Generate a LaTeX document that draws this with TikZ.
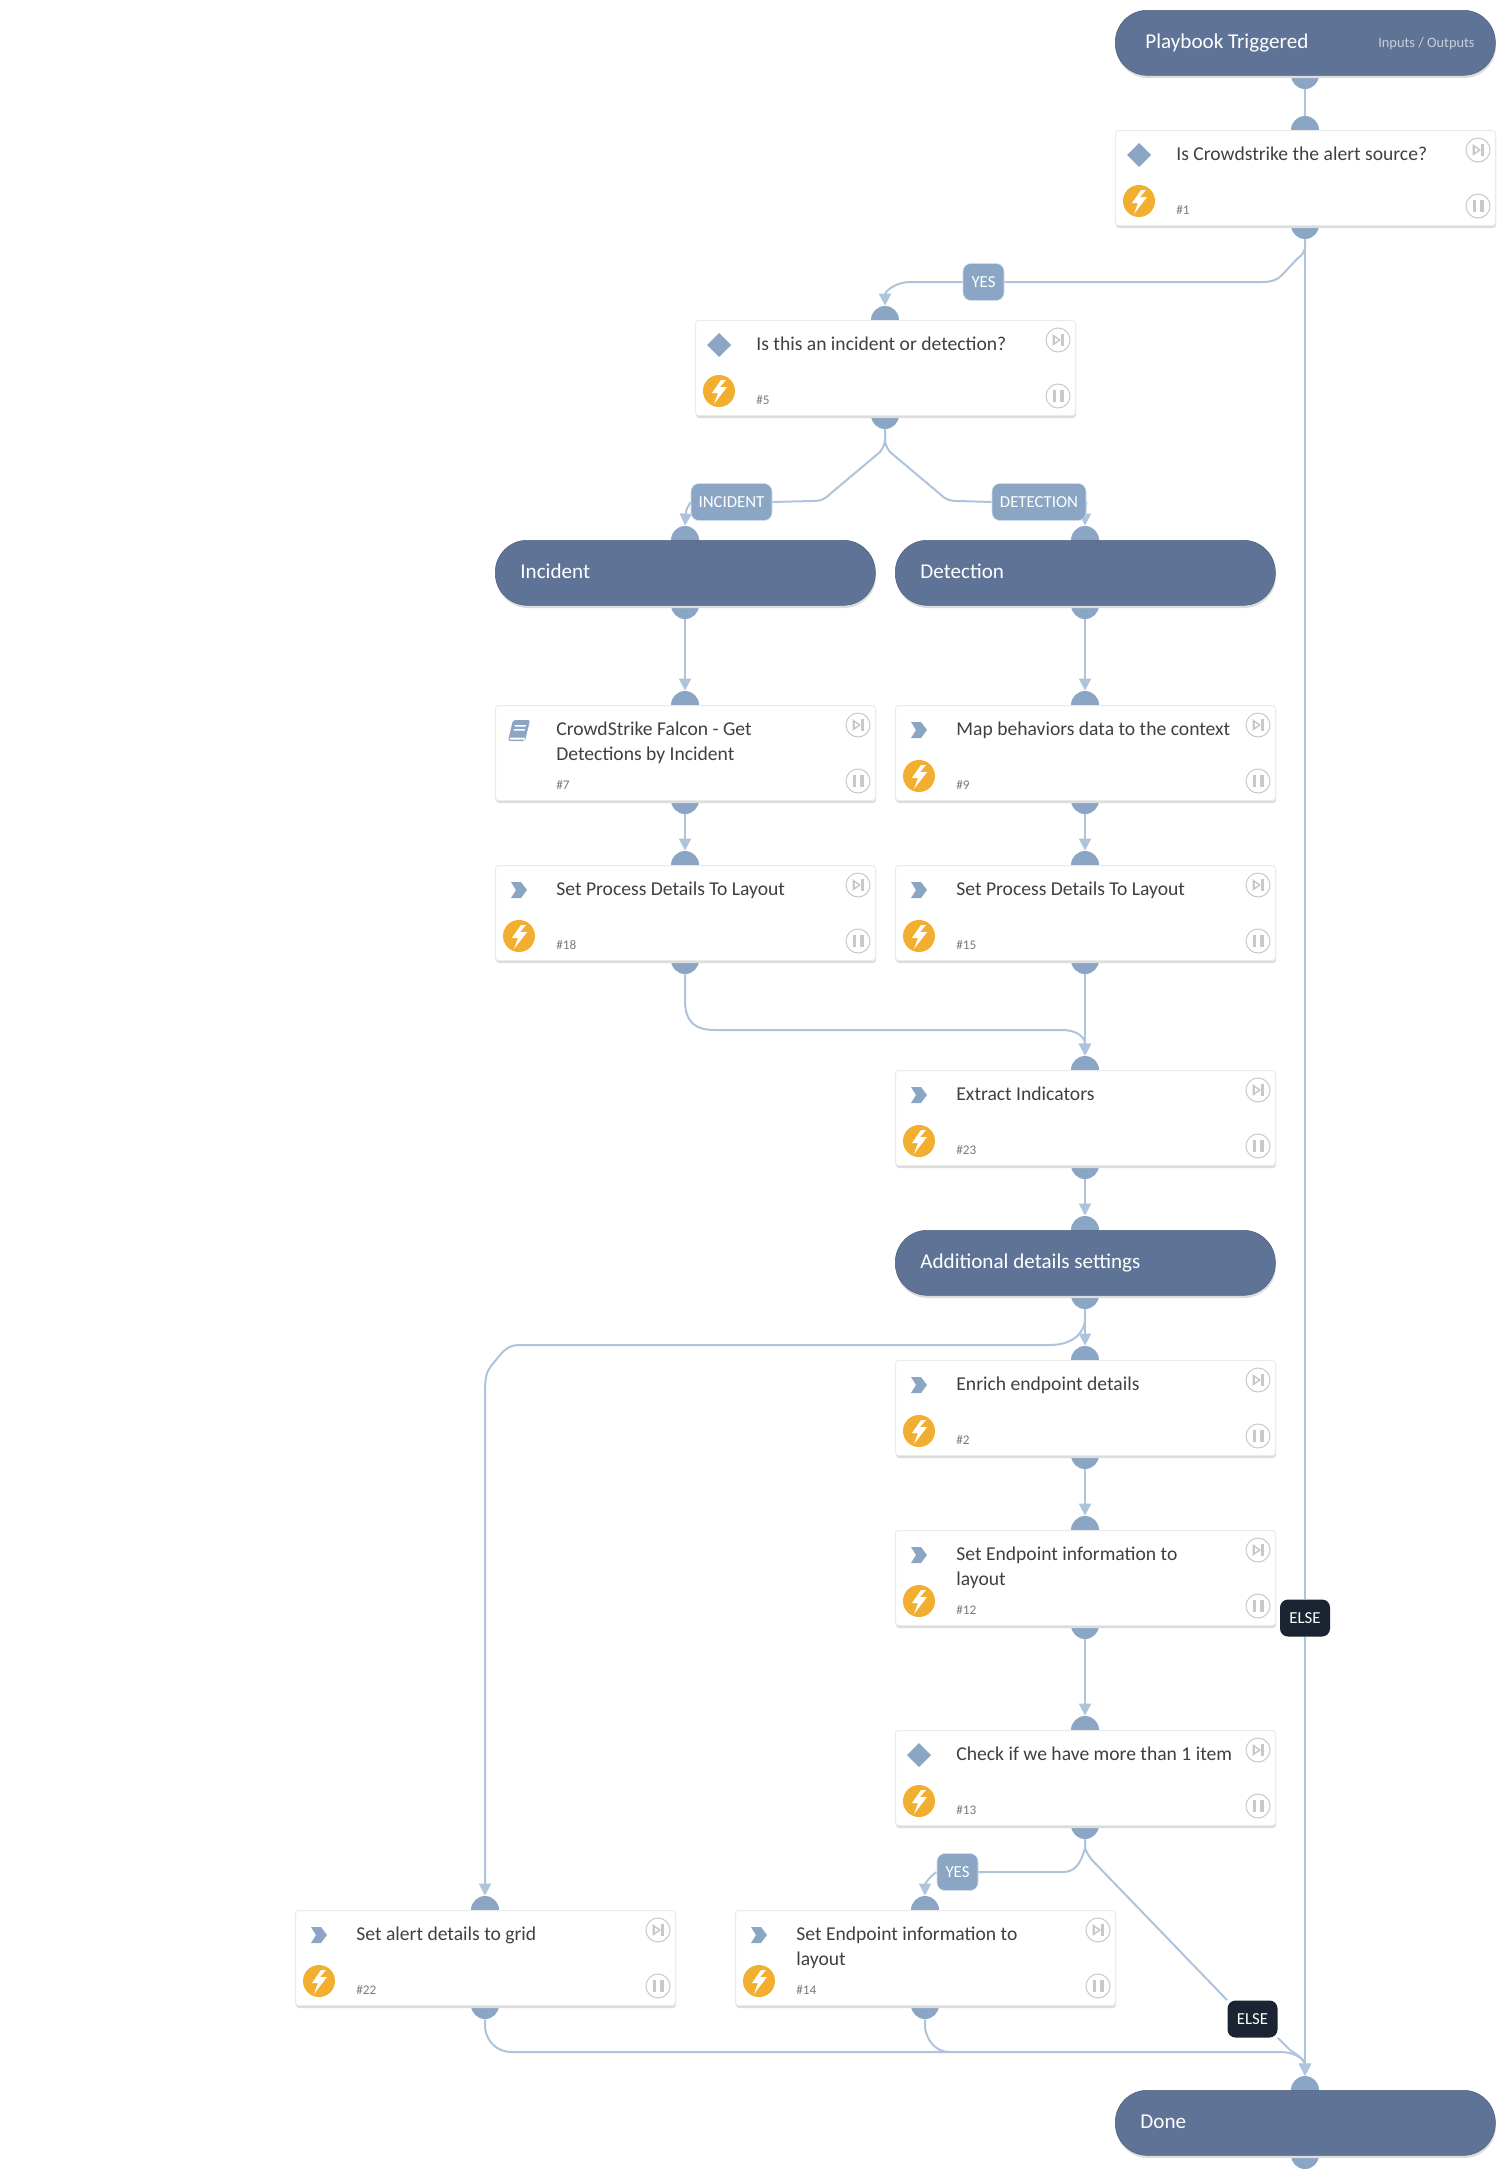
\documentclass[tikz,border=0pt]{standalone}
\usepackage{fontspec}
\setmainfont{Carlito}
\usetikzlibrary{arrows.meta,calc}
\pgfdeclarelayer{lines}
\pgfsetlayers{lines,main}
\definecolor{pillc}{HTML}{5F7396}
\definecolor{portc}{HTML}{8AA6C4}
\definecolor{linec}{HTML}{AEC4DC}
\definecolor{boltc}{HTML}{F2AE2F}
\definecolor{textc}{HTML}{404040}
\definecolor{numc}{HTML}{7A7A7A}
\definecolor{ctrlc}{HTML}{C8C8C8}
\definecolor{elsec}{HTML}{1B2433}
\definecolor{shadc}{HTML}{DCDCDC}
\tikzset{
  port/.style={circle,fill=portc,minimum size=14pt,inner sep=0pt},
  conn/.style={draw=linec,line width=1pt},
  arr/.style={conn,-{Triangle[length=6pt,width=6pt,fill=linec]}},
  taskbox/.style={fill=white,draw=shadc!60,line width=.5pt,rounded corners=1.5pt,minimum width=190pt,minimum height=47.5pt,inner sep=0pt,anchor=north west},
  pillbox/.style={fill=pillc,draw=pillc!85!black,line width=.3pt,rounded corners=16pt,minimum width=190pt,minimum height=32.5pt,inner sep=0pt,anchor=north west},
  tasktext/.style={anchor=north west,inner sep=0pt,align=left,text=textc,font=\fontsize{9.8}{12.5}\selectfont},
  numtext/.style={anchor=base west,inner sep=0pt,text=numc,font=\fontsize{6.6}{8}\selectfont},
  pilltext/.style={anchor=base west,inner sep=0pt,text=white,font=\fontsize{10.55}{13}\selectfont},
  edgelabel/.style={fill=portc,draw=linec!60,line width=.3pt,rounded corners=4pt,inner sep=0pt,text=white,font=\fontsize{8.4}{10}\selectfont},
  elselabel/.style={fill=elsec,rounded corners=4pt,inner sep=0pt,text=white,font=\fontsize{8.4}{10}\selectfont},
}
\newcommand{\ports}[4]{%
  \node[port] (#1t) at (#2+190,#3) {};
  \node[port] (#1b) at (#2+190,#3+#4) {};
}
\newcommand{\ctrls}[3]{%
  \begin{scope}[shift={(#1,#2)}]
    \node[circle,draw=ctrlc,line width=.5pt,fill=white,minimum size=12pt,inner sep=0pt] (#3s) at (363,20) {};
    \fill[ctrlc] (357.5,14) -- (366,20) -- (357.5,26) -- cycle;
    \fill[white] (360,17.7) -- (363.2,20) -- (360,22.3) -- cycle;
    \fill[ctrlc] (366,14) rectangle (369,26);
    \node[circle,draw=ctrlc,line width=.5pt,fill=white,minimum size=12pt,inner sep=0pt] (#3p) at (363,76) {};
    \fill[ctrlc] (357.5,70) rectangle (361,82);
    \fill[ctrlc] (365,70) rectangle (368.5,82);
  \end{scope}
}
\newcommand{\bolt}[3]{%
  \begin{scope}[shift={(#1,#2)}]
    \node[circle,fill=boltc,minimum size=16pt,inner sep=0pt] (#3i) at (24,71) {};
    \fill[white] (26,60) -- (17,73) -- (23,73) -- (19,84) -- (32,67) -- (25,67) -- (31,60) -- cycle;
  \end{scope}
}
\newcommand{\diamondicon}[2]{\fill[portc,shift={(#1,#2)}] (24,13) -- (36,25) -- (24,37) -- (12,25) -- cycle;}
\newcommand{\chevicon}[2]{\fill[portc,shift={(#1,#2)}] (16,17) -- (26,17) -- (32,25) -- (26,33) -- (16,33) -- (21,25) -- cycle;}
\newcommand{\bookicon}[2]{%
  \begin{scope}[shift={(#1,#2)}]
    \fill[portc,rounded corners=1pt] (18,15) -- (35,15) -- (30,36) -- (13,36) -- cycle;
    \fill[white] (14.5,34.5) -- (29.5,34.5) -- (30,32.5) -- (15,32.5) -- cycle;
    \fill[white] (20,20) -- (31,20) -- (30.6,21.5) -- (19.6,21.5) -- cycle;
    \fill[white] (19,24) -- (30,24) -- (29.6,25.5) -- (18.6,25.5) -- cycle;
  \end{scope}
}
\newcommand{\tasknode}[7]{%
  \ports{#1}{#2}{#3}{95}
  \fill[shadc,rounded corners=1.5pt] (#2+1,#3+3) rectangle (#2+381,#3+98);
  \node[taskbox] (#1) at (#2,#3) {};
  \csname #4icon\endcsname{#2}{#3}
  #5
  \ctrls{#2}{#3}{#1}
  \node[tasktext] (#1x) at (#2+61,#3+12.5) {\strut #6};
  \node[numtext] (#1n) at (#2+61,#3+84) {#7};
}
\newcommand{\pillnode}[5]{%
  \ports{#1}{#2}{#3}{65}
  \fill[shadc,rounded corners=16pt] (#2+1,#3+3) rectangle (#2+381,#3+68);
  \node[pillbox] (#1) at (#2,#3) {};
  \node[pilltext] (#1x) at (#2+#5,#3+38) {#4};
}
\begin{document}
\begin{tikzpicture}[x=0.5pt,y=-0.5pt]
\useasboundingbox (0,0) rectangle (1505,2179);
\begin{pgfonlayer}{lines}
\fill[white] (0,0) rectangle (1505,2179);
\end{pgfonlayer}

% trigger pill has only a bottom port
\node[port] (startb) at (1305,75) {};
\fill[shadc,rounded corners=16pt] (1116,13) rectangle (1496,78);
\node[pillbox] (start) at (1115,10) {};
\node[pilltext] (startx) at (1145,48) {Playbook Triggered};
\node[anchor=base east,inner sep=0pt,text=white!65!pillc,font=\fontsize{7.2}{9}\selectfont] (startio) at (1475,47.5) {Inputs / Outputs};

\tasknode{n1}{1115}{130}{diamond}{\bolt{1115}{130}{n1}}{Is Crowdstrike the alert source?}{\#1}
\tasknode{n5}{695}{320}{diamond}{\bolt{695}{320}{n5}}{Is this an incident or detection?}{\#5}
\pillnode{inc}{495}{540}{Incident}{25}
\pillnode{det}{895}{540}{Detection}{25}
\tasknode{n7}{495}{705}{book}{}{CrowdStrike Falcon - Get\\Detections by Incident}{\#7}
\tasknode{n9}{895}{705}{chev}{\bolt{895}{705}{n9}}{Map behaviors data to the context}{\#9}
\tasknode{n18}{495}{865}{chev}{\bolt{495}{865}{n18}}{Set Process Details To Layout}{\#18}
\tasknode{n15}{895}{865}{chev}{\bolt{895}{865}{n15}}{Set Process Details To Layout}{\#15}
\tasknode{n23}{895}{1070}{chev}{\bolt{895}{1070}{n23}}{Extract Indicators}{\#23}
\pillnode{add}{895}{1230}{Additional details settings}{25}
\tasknode{n2}{895}{1360}{chev}{\bolt{895}{1360}{n2}}{Enrich endpoint details}{\#2}
\tasknode{n12}{895}{1530}{chev}{\bolt{895}{1530}{n12}}{Set Endpoint information to\\layout}{\#12}
\tasknode{n13}{895}{1730}{diamond}{\bolt{895}{1730}{n13}}{Check if we have more than 1 item}{\#13}
\tasknode{n22}{295}{1910}{chev}{\bolt{295}{1910}{n22}}{Set alert details to grid}{\#22}
\tasknode{n14}{735}{1910}{chev}{\bolt{735}{1910}{n14}}{Set Endpoint information to\\layout}{\#14}
\pillnode{done}{1115}{2090}{Done}{25}

\node[edgelabel,minimum width=20.5pt,minimum height=18.5pt] (lyes1) at (983.5,282) {YES};
\node[edgelabel,minimum width=40.5pt,minimum height=18.5pt] (linc) at (731.5,502) {INCIDENT};
\node[edgelabel,minimum width=47pt,minimum height=18.5pt] (ldet) at (1039,502) {DETECTION};
\node[elselabel,minimum width=25pt,minimum height=18.5pt] (lelse1) at (1305,1618) {ELSE};
\node[edgelabel,minimum width=20.5pt,minimum height=18.5pt] (lyes2) at (957.5,1872) {YES};
\node[elselabel,minimum width=25pt,minimum height=18.5pt] (lelse2) at (1252.5,2019) {ELSE};
\coordinate (mergeA) at (950,2052);

\begin{pgfonlayer}{lines}
\draw[conn] (startb.south) -- (n1t.north);
\draw[arr] (incb.south) -- (n7t.north);
\draw[arr] (detb.south) -- (n9t.north);
\draw[arr] (n7b.south) -- (n18t.north);
\draw[arr] (n9b.south) -- (n15t.north);
\draw[arr] (n15b.south) -- (n23t.north);
\draw[arr] (n23b.south) -- (addt.north);
\draw[arr] (addb.south) -- (n2t.north);
\draw[arr] (n2b.south) -- (n12t.north);
\draw[arr] (n12b.south) -- (n13t.north);
\draw[conn] (n1b.south) -- (lelse1.north);
\draw[arr] (lelse1.south) -- (donet.north);
% yes branch of #1
\draw[conn] (n1b.south) -- (1305,248) .. controls (1303,254) .. (1298,258) -- (1282,275) .. controls (1276,281) and (1270,282) .. (1262,282) -- (lyes1.east);
\draw[arr] (lyes1.west) -- (910,282) .. controls (895,282) and (885,292) .. (n5t.north);
% incident / detection
\draw[conn] (n5b.south) -- (885,440) .. controls (884,446) .. (880,452) -- (830,494) .. controls (824,500) and (820,501) .. (812,501) -- (linc.east);
\draw[conn] (n5b.south) -- (885,440) .. controls (886,446) .. (890,452) -- (940,494) .. controls (946,500) and (950,501) .. (958,501) -- (ldet.west);
\draw[arr] (linc.west) .. controls (686,510) .. (inct.north);
\draw[arr] (ldet.east) .. controls (1085,510) .. (dett.north);
% #18 to #23
\draw[arr] (n18b.south) -- (685,1000) .. controls (685,1022) and (695,1030) .. (715,1030) -- (1062,1030) .. controls (1078,1030) and (1085,1038) .. (n23t.north);
% additional details to #22
\draw[arr] (addb.south) -- (1085,1318) .. controls (1085,1335) and (1070,1345) .. (1050,1345) -- (520,1345) .. controls (510,1345) and (505,1349) .. (500,1355) -- (491,1366) .. controls (486,1372) and (485,1380) .. (485,1392) -- (n22t.north);
% #13 branches
\draw[conn] (n13b.south) -- (1085,1848) .. controls (1080,1866) and (1074,1872) .. (1062,1872) -- (lyes2.east);
\draw[arr] (lyes2.west) .. controls (930,1876) and (925,1884) .. (n14t.north);
\draw[conn] (n13b.south) -- (1085,1848) .. controls (1087,1853) .. (1092,1860) -- (lelse2.north west);
\draw[arr] (lelse2.south east) -- (1290,2050) .. controls (1300,2056) and (1305,2062) .. (donet.north);
% merge into done
\draw[arr] (n22b.south) -- (485,2028) .. controls (487,2042) and (497,2052) .. (512,2052) -- (1280,2052) .. controls (1296,2052) and (1305,2060) .. (donet.north);
\draw[conn] (n14b.south) -- (925,2028) .. controls (927,2040) and (935,2052) .. (mergeA);
\end{pgfonlayer}
\end{tikzpicture}
\end{document}
